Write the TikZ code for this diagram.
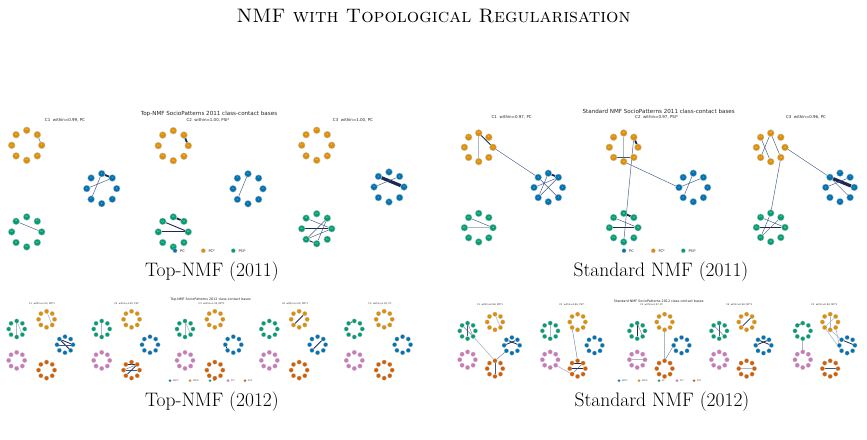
\documentclass[tikz,border=0pt]{standalone}
\usepackage{fontspec}
\newfontfamily\mpl{DejaVu Sans}
\usetikzlibrary{calc}
\pgfdeclarelayer{bg}
\pgfsetlayers{bg,main}
\definecolor{cb0}{HTML}{0173B2}
\definecolor{cb1}{HTML}{DE8F05}
\definecolor{cb2}{HTML}{029E73}
\definecolor{cb3}{HTML}{CC78BC}
\definecolor{cb4}{HTML}{D55E00}
\definecolor{edk}{HTML}{1B2A52}
\definecolor{emd}{HTML}{3E5783}
\definecolor{elt}{HTML}{AAB7CA}
\tikzset{
  nd/.style={circle, draw=gray!50, line width=0.3pt, inner sep=0pt, minimum size=6.8pt,
    font=\mpl\fontsize{1.9}{2}\selectfont, text=white},
  ns/.style={circle, draw=gray!50, line width=0.2pt, inner sep=0pt, minimum size=4.4pt},
  et/.style={draw=emd, line width=0.45pt},
  em/.style={draw=edk, line width=0.9pt},
  ek/.style={draw=edk, line width=1.8pt},
  eh/.style={draw=edk, line width=3.2pt},
  el/.style={draw=elt, line width=1.1pt},
  es/.style={draw=emd, line width=0.3pt},
  esk/.style={draw=edk, line width=0.8pt},
  esl/.style={draw=elt, line width=0.6pt},
  captxt/.style={font=\fontsize{19.5}{22}\selectfont, inner sep=0pt},
  ttlA/.style={font=\mpl\fontsize{5.6}{6}\selectfont, text=black!85, inner sep=0pt},
  subA/.style={font=\mpl\fontsize{4}{4.5}\selectfont, text=black!85, inner sep=0pt},
  legA/.style={font=\mpl\fontsize{3.6}{4}\selectfont, text=black!85, inner sep=0pt, anchor=west},
  ttlB/.style={font=\mpl\fontsize{3.3}{3.5}\selectfont, text=black!85, inner sep=0pt},
  subB/.style={font=\mpl\fontsize{2.3}{2.5}\selectfont, text=black!85, inner sep=0pt},
  legB/.style={font=\mpl\fontsize{2.1}{2.3}\selectfont, text=black!85, inner sep=0pt, anchor=west},
  ldotA/.style={circle, draw=gray!50, line width=0.2pt, inner sep=0pt, minimum size=4.2pt},
  ldotB/.style={circle, draw=gray!50, line width=0.15pt, inner sep=0pt, minimum size=2.8pt},
}
% ring of 8 labelled nodes: name, x, y, radius, colour, first label
\newcommand{\ringA}[6]{%
  \foreach \k in {0,...,7}{%
    \pgfmathtruncatemacro{\lab}{#6+\k}%
    \node[nd, fill=#5] (#1\k) at ($(#2,#3)+(-45*\k:#4)$) {\lab};
  }}
% ring of 8 small nodes
\newcommand{\ringB}[5]{%
  \foreach \k in {0,...,7}{%
    \node[ns, fill=#5] (#1\k) at ($(#2,#3)+(-45*\k:#4)$) {};
  }}
% 2011 subplot: prefix, cx, cy, R, ring radius
\newcommand{\subplotA}[5]{%
  \pgfmathsetmacro{\sAox}{#2-0.5*#4}%
  \pgfmathsetmacro{\sAoy}{#3-0.866*#4}%
  \pgfmathsetmacro{\sAgy}{#3+0.866*#4}%
  \pgfmathsetmacro{\sAbx}{#2+#4}%
  \ringA{#1b}{\sAbx}{#3}{#5}{cb0}{0}%
  \ringA{#1o}{\sAox}{\sAoy}{#5}{cb1}{8}%
  \ringA{#1g}{\sAox}{\sAgy}{#5}{cb2}{16}}
% 2012 subplot: prefix, cx, cy, R, ring radius
\newcommand{\subplotB}[5]{%
  \ringB{#1b}{#2+#4}{#3}{#5}{cb0}%
  \ringB{#1y}{#2+0.309*#4}{#3-0.951*#4}{#5}{cb1}%
  \ringB{#1g}{#2-0.809*#4}{#3-0.588*#4}{#5}{cb2}%
  \ringB{#1p}{#2-0.809*#4}{#3+0.588*#4}{#5}{cb3}%
  \ringB{#1v}{#2+0.309*#4}{#3+0.951*#4}{#5}{cb4}}
\begin{document}
\begin{tikzpicture}[x=1pt,y=-1pt]
\useasboundingbox (0,0) rectangle (867,439);
\begin{pgfonlayer}{bg}
\fill[white] (0,0) rectangle (867,439);
\end{pgfonlayer}

% ---------- headings ----------
\node[captxt] (title) at (433.5,16) {\textsc{NMF with Topological Regularisation}};
\node[captxt] (capA) at (212,272) {Top-NMF (2011)};
\node[captxt] (capB) at (661,272) {Standard NMF (2011)};
\node[captxt] (capC) at (212,402) {Top-NMF (2012)};
\node[captxt] (capD) at (662,402) {Standard NMF (2012)};

% ---------- Top-NMF 2011 ----------
\node[ttlA] (tA) at (209,114) {Top-NMF SocioPatterns 2011 class-contact bases};
\node[subA] (tA1) at (65,120) {C1\ \ within=0.99, PC};
\node[subA] (tA2) at (208,120) {C2\ \ within=1.00, PSI*};
\node[subA] (tA3) at (353,120) {C3\ \ within=1.00, PC};
\subplotA{T1}{51.7}{188.6}{50}{15}
\subplotA{T2}{198.2}{188.8}{49.8}{15}
\subplotA{T3}{340.8}{187}{48.2}{15}
\node[ldotA, fill=cb0] (lA0) at (175,250.7) {};
\node[legA] (lA0t) at (180,250.7) {PC};
\node[ldotA, fill=cb1] (lA1) at (203.3,250.7) {};
\node[legA] (lA1t) at (208.3,250.7) {PC*};
\node[ldotA, fill=cb2] (lA2) at (233.3,250.7) {};
\node[legA] (lA2t) at (238.3,250.7) {PSI*};

% ---------- Standard NMF 2011 ----------
\node[ttlA] (tB) at (658.7,111) {Standard NMF SocioPatterns 2011 class-contact bases};
\node[subA] (tB1) at (511.7,117) {C1\ \ within=0.97, PC};
\node[subA] (tB2) at (656.7,117) {C2\ \ within=0.97, PSI*};
\node[subA] (tB3) at (806,117) {C3\ \ within=0.96, PC};
\subplotA{S1}{501.9}{187.5}{46.4}{14.3}
\subplotA{S2}{646.9}{187.5}{46.4}{14.3}
\subplotA{S3}{793.8}{187.4}{46.2}{14.3}
\node[ldotA, fill=cb0] (lB0) at (624,250.7) {};
\node[legA] (lB0t) at (629,250.7) {PC};
\node[ldotA, fill=cb1] (lB1) at (653.3,250.7) {};
\node[legA] (lB1t) at (658.3,250.7) {PC*};
\node[ldotA, fill=cb2] (lB2) at (683.3,250.7) {};
\node[legA] (lB2t) at (688.3,250.7) {PSI*};

% ---------- Top-NMF 2012 ----------
\node[ttlB] (tC) at (210.7,300) {Top-NMF SocioPatterns 2012 class-contact bases};
\node[subB] (tC1) at (42,304) {C1\ \ within=1.00, MP*1};
\node[subB] (tC2) at (126.7,304) {C2\ \ within=1.00, PSI*};
\node[subB] (tC3) at (211.7,304) {C3\ \ within=1.00, MP*1};
\node[subB] (tC4) at (295,304) {C4\ \ within=1.00, MP*1};
\node[subB] (tC5) at (380,304) {C5\ \ within=1.00, PC};
\subplotB{U1}{38.3}{344.7}{26.7}{8}
\subplotB{U2}{123.3}{344.7}{26.7}{8}
\subplotB{U3}{206.6}{344.7}{26.7}{8}
\subplotB{U4}{290.9}{344.7}{26.7}{8}
\subplotB{U5}{375.9}{344.7}{26.7}{8}
\node[ldotB, fill=cb0] (lC0) at (170,380.7) {};
\node[legB] (lC0t) at (173,380.7) {MP*1};
\node[ldotB, fill=cb1] (lC1) at (190,380.7) {};
\node[legB] (lC1t) at (193,380.7) {MP*2};
\node[ldotB, fill=cb2] (lC2) at (210,380.7) {};
\node[legB] (lC2t) at (213,380.7) {PC};
\node[ldotB, fill=cb3] (lC3) at (228,380.7) {};
\node[legB] (lC3t) at (231,380.7) {PC*};
\node[ldotB, fill=cb4] (lC4) at (245,380.7) {};
\node[legB] (lC4t) at (248,380.7) {PSI*};

% ---------- Standard NMF 2012 ----------
\node[ttlB] (tD) at (658.7,301) {Standard NMF SocioPatterns 2012 class-contact bases};
\node[subB] (tD1) at (490,305) {C1\ \ within=0.98, MP*1};
\node[subB] (tD2) at (571.7,305) {C2\ \ within=0.96, PSI*};
\node[subB] (tD3) at (651.7,305) {C3\ \ within=0.97, PC};
\node[subB] (tD4) at (739.3,305) {C4\ \ within=0.98, MP*1};
\node[subB] (tD5) at (824.3,305) {C5\ \ within=0.98, MP*1};
\subplotB{V1}{487.4}{345.3}{24.5}{7.8}
\subplotB{V2}{570}{345.3}{24.5}{7.8}
\subplotB{V3}{657}{345.3}{24.5}{7.8}
\subplotB{V4}{739}{345.3}{24.5}{7.8}
\subplotB{V5}{822.6}{345.3}{24.5}{7.8}
\node[ldotB, fill=cb0] (lD0) at (619,380.7) {};
\node[legB] (lD0t) at (622,380.7) {MP*1};
\node[ldotB, fill=cb1] (lD1) at (639,380.7) {};
\node[legB] (lD1t) at (642,380.7) {MP*2};
\node[ldotB, fill=cb2] (lD2) at (659,380.7) {};
\node[legB] (lD2t) at (662,380.7) {PC};
\node[ldotB, fill=cb3] (lD3) at (677,380.7) {};
\node[legB] (lD3t) at (680,380.7) {PC*};
\node[ldotB, fill=cb4] (lD4) at (694,380.7) {};
\node[legB] (lD4t) at (697,380.7) {PSI*};

% ---------- edges ----------
\begin{pgfonlayer}{bg}
% Top 2011
\draw[et] (T1o1) -- (T1o0);
\draw[ek] (T1b2) -- (T1b1);
\draw[et] (T1b2) -- (T1b5);
\draw[et] (T1b4) -- (T1b1);
\draw[et] (T1g3) -- (T1g0);
\draw[ek] (T2o1) -- (T2o0);
\draw[et] (T2b2) -- (T2b5);
\draw[ek] (T2g2) -- (T2g1);
\draw[em] (T2g3) -- (T2g0);
\draw[em] (T2g4) -- (T2g0);
\draw[eh] (T3b3) -- (T3b0);
\draw[et] (T3b4) -- (T3b1);
\draw[em] (T3g4) -- (T3g0);
\draw[et] (T3g3) -- (T3g0);
\draw[et] (T3g1) -- (T3g5);
\draw[et] (T3g1) -- (T3g6);
\draw[et] (T3g0) -- (T3g5);
\draw[em] (T3g5) -- (T3g6);
% Standard 2011
\draw[el] (S1o2) -- (S1o6);
\draw[em] (S1o2) -- (S1o0);
\draw[et] (S1o0) -- (S1b3);
\draw[ek] (S1b2) -- (S1b1);
\draw[et] (S1b4) -- (S1b1);
\draw[et] (S1b5) -- (S1b1);
\draw[et] (S1b3) -- (S1b7);
\draw[et] (S1b2) -- (S1b5);
\draw[et] (S1g3) -- (S1g0);
\draw[el] (S1g4) -- (S1g0);
\draw[el] (S2o2) -- (S2o6);
\draw[ek] (S2o1) -- (S2o0);
\draw[et] (S2o5) -- (S2o7);
\draw[et] (S2o6) -- (S2b4);
\draw[et] (S2o1) -- (S2g6);
\draw[et] (S2b4) -- (S2b1);
\draw[et] (S2b2) -- (S2b5);
\draw[ek] (S2g2) -- (S2g1);
\draw[et] (S2g3) -- (S2g0);
\draw[em] (S2g4) -- (S2g0);
\draw[et] (S3o2) -- (S3o5);
\draw[et] (S3o3) -- (S3o6);
\draw[et] (S3o2) -- (S3o7);
\draw[et] (S3o0) -- (S3b3);
\draw[et] (S3o7) -- (S3g2);
\draw[eh] (S3b3) -- (S3b0);
\draw[et] (S3b3) -- (S3b7);
\draw[et] (S3b4) -- (S3b1);
\draw[em] (S3g4) -- (S3g0);
\draw[et] (S3g3) -- (S3g0);
\draw[et] (S3g1) -- (S3g5);
\draw[et] (S3g2) -- (S3g5);
% Top 2012
\draw[esl] (U1g2) -- (U1g6);
\draw[esl] (U1g2) -- (U1g7);
\draw[esl] (U1y2) -- (U1y7);
\draw[esk] (U1b3) -- (U1b0);
\draw[esk] (U1b3) -- (U1b7);
\draw[es] (U1b4) -- (U1b0);
\draw[esl] (U2g2) -- (U2g6);
\draw[esk] (U2v3) -- (U2v1);
\draw[es] (U2v4) -- (U2v0);
\draw[esk] (U2v5) -- (U2v1);
\draw[es] (U2v4) -- (U2v1);
\draw[esl] (U3g2) -- (U3g6);
\draw[esl] (U3g2) -- (U3g7);
\draw[esk] (U3b4) -- (U3b5);
\draw[esk] (U4y1) -- (U4y5);
\draw[esk] (U4b1) -- (U4b5);
\draw[esk] (U5g2) -- (U5g3);
% Standard 2012
\draw[es] (V1g2) -- (V1g6);
\draw[es] (V1g2) -- (V1g7);
\draw[es] (V1g3) -- (V1g7);
\draw[esl] (V1g7) -- (V1v2);
\draw[esl] (V1y2) -- (V1y7);
\draw[esk] (V1b3) -- (V1b0);
\draw[esk] (V1b4) -- (V1b1);
\draw[es] (V1b5) -- (V1v2);
\draw[es] (V1v2) -- (V1v6);
\draw[esl] (V2g2) -- (V2g6);
\draw[es] (V2y5) -- (V2v2);
\draw[esl] (V2p7) -- (V2v5);
\draw[esk] (V2v3) -- (V2v1);
\draw[esk] (V2v4) -- (V2v0);
\draw[es] (V2v5) -- (V2v1);
\draw[esk] (V3g2) -- (V3g6);
\draw[es] (V3g2) -- (V3g7);
\draw[esl] (V3y6) -- (V3v2);
\draw[esl] (V3p4) -- (V3p0);
\draw[es] (V3b4) -- (V3v2);
\draw[es] (V3b4) -- (V3b5);
\draw[es] (V4g2) -- (V4g6);
\draw[es] (V4g3) -- (V4g7);
\draw[esk] (V4y1) -- (V4y5);
\draw[esk] (V4b3) -- (V4b0);
\draw[esk] (V4b4) -- (V4b1);
\draw[esl] (V4v4) -- (V4v0);
\draw[esk] (V5g2) -- (V5g3);
\draw[esl] (V5g6) -- (V5p2);
\draw[esl] (V5y2) -- (V5y6);
\draw[esl] (V5y1) -- (V5y5);
\draw[esl] (V5y6) -- (V5b3);
\draw[esl] (V5y7) -- (V5b4);
\draw[esl] (V5y5) -- (V5b5);
\draw[esk] (V5b3) -- (V5b0);
\draw[es] (V5v4) -- (V5v0);
\end{pgfonlayer}
\end{tikzpicture}
\end{document}
